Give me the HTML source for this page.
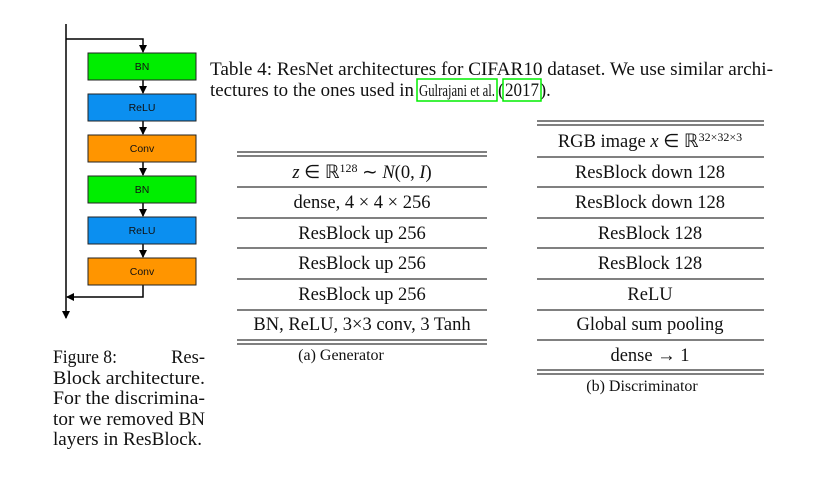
<!DOCTYPE html>
<html><head><meta charset="utf-8"><style>
body{margin:0;background:#fff}
svg{display:block}
.s{font-family:"Liberation Serif",serif;font-size:18.5px;fill:#111}
.b{font-family:"Liberation Sans",sans-serif;font-size:10.5px;fill:#111}
</style></head><body>
<svg width="839" height="489" viewBox="0 0 839 489">
<defs><marker id="ar" markerWidth="8" markerHeight="8" refX="7" refY="4" orient="auto" markerUnits="userSpaceOnUse"><path d="M0,0 L8,4 L0,8 z" fill="#000"/></marker></defs>
<g stroke="#000" stroke-width="1.5" fill="none">
<line x1="66" y1="24" x2="66" y2="318" marker-end="url(#ar)"/>
<polyline points="66,39 143,39 143,52" marker-end="url(#ar)"/>
<polyline points="143,285 143,297 67,297" marker-end="url(#ar)"/>
<line x1="143" y1="80" x2="143" y2="93" marker-end="url(#ar)"/>
<line x1="143" y1="121" x2="143" y2="134" marker-end="url(#ar)"/>
<line x1="143" y1="162" x2="143" y2="175" marker-end="url(#ar)"/>
<line x1="143" y1="203" x2="143" y2="216" marker-end="url(#ar)"/>
<line x1="143" y1="244" x2="143" y2="257" marker-end="url(#ar)"/>
</g>
<g><rect x="88" y="53" width="108" height="27" fill="#00ee00" stroke="#222"/><text class="b" x="142" y="70" text-anchor="middle">BN</text></g>
<g><rect x="88" y="94" width="108" height="27" fill="#0b8ff0" stroke="#222"/><text class="b" x="142" y="111" text-anchor="middle">ReLU</text></g>
<g><rect x="88" y="135" width="108" height="27" fill="#ff9500" stroke="#222"/><text class="b" x="142" y="152" text-anchor="middle">Conv</text></g>
<g><rect x="88" y="176" width="108" height="27" fill="#00ee00" stroke="#222"/><text class="b" x="142" y="193" text-anchor="middle">BN</text></g>
<g><rect x="88" y="217" width="108" height="27" fill="#0b8ff0" stroke="#222"/><text class="b" x="142" y="234" text-anchor="middle">ReLU</text></g>
<g><rect x="88" y="258" width="108" height="27" fill="#ff9500" stroke="#222"/><text class="b" x="142" y="275" text-anchor="middle">Conv</text></g>

<g>
<text class="s" x="53" y="363" textLength="64" lengthAdjust="spacingAndGlyphs">Figure 8:</text><text class="s" x="205" y="363" text-anchor="end">Res-</text>
<text class="s" x="53" y="384" textLength="152" lengthAdjust="spacingAndGlyphs">Block architecture.</text>
<text class="s" x="53" y="404" textLength="152" lengthAdjust="spacingAndGlyphs">For the discrimina-</text>
<text class="s" x="53" y="425" textLength="152" lengthAdjust="spacingAndGlyphs">tor we removed BN</text>
<text class="s" x="53" y="445" textLength="149" lengthAdjust="spacingAndGlyphs">layers in ResBlock.</text>
</g>

<g>
<text class="s" x="210" y="75" textLength="563" lengthAdjust="spacingAndGlyphs">Table 4: ResNet architectures for CIFAR10 dataset. We use similar archi-</text>
<text class="s" x="210" y="96" textLength="204" lengthAdjust="spacingAndGlyphs">tectures to the ones used in</text>
<text class="s" x="419" y="96" style="font-size:17px" textLength="76" lengthAdjust="spacingAndGlyphs">Gulrajani et al.</text>
<text class="s" x="498" y="96">(</text>
<text class="s" x="505" y="96" textLength="34" lengthAdjust="spacingAndGlyphs">2017</text>
<text class="s" x="540" y="96">).</text>
<rect x="417" y="79" width="80" height="22" fill="none" stroke="#00ee00" stroke-width="1.5"/>
<rect x="503" y="79" width="38" height="22" fill="none" stroke="#00ee00" stroke-width="1.5"/>
</g>

<g stroke="#000" stroke-width="1">
<line x1="237" y1="152" x2="487" y2="152"/><line x1="237" y1="156" x2="487" y2="156"/>
<line x1="237" y1="187" x2="487" y2="187"/><line x1="237" y1="218" x2="487" y2="218"/>
<line x1="237" y1="248" x2="487" y2="248"/><line x1="237" y1="279" x2="487" y2="279"/>
<line x1="237" y1="310" x2="487" y2="310"/>
<line x1="237" y1="340" x2="487" y2="340"/><line x1="237" y1="344" x2="487" y2="344"/>
</g>
<g>
<text class="s" x="362" y="178" text-anchor="middle"><tspan font-style="italic">z</tspan> ∈ ℝ<tspan dy="-6" style="font-size:12px">128</tspan><tspan dy="6"> ∼ </tspan><tspan font-style="italic">N</tspan>(0, <tspan font-style="italic">I</tspan>)</text>
<text class="s" x="362" y="208" text-anchor="middle">dense, 4 × 4 × 256</text>
<text class="s" x="362" y="239" text-anchor="middle">ResBlock up 256</text>
<text class="s" x="362" y="269" text-anchor="middle">ResBlock up 256</text>
<text class="s" x="362" y="300" text-anchor="middle">ResBlock up 256</text>
<text class="s" x="362" y="330" text-anchor="middle">BN, ReLU, 3×3 conv, 3 Tanh</text>
<text class="s" x="341" y="360" text-anchor="middle" style="font-size:16px">(a) Generator</text>
</g>

<g stroke="#000" stroke-width="1">
<line x1="537" y1="121" x2="764" y2="121"/><line x1="537" y1="125" x2="764" y2="125"/>
<line x1="537" y1="157" x2="764" y2="157"/><line x1="537" y1="187" x2="764" y2="187"/>
<line x1="537" y1="218" x2="764" y2="218"/><line x1="537" y1="248" x2="764" y2="248"/>
<line x1="537" y1="279" x2="764" y2="279"/><line x1="537" y1="310" x2="764" y2="310"/>
<line x1="537" y1="340" x2="764" y2="340"/>
<line x1="537" y1="370" x2="764" y2="370"/><line x1="537" y1="374" x2="764" y2="374"/>
</g>
<g>
<text class="s" x="650" y="147" text-anchor="middle">RGB image <tspan font-style="italic">x</tspan> ∈ ℝ<tspan dy="-6" style="font-size:12px">32×32×3</tspan></text>
<text class="s" x="650" y="178" text-anchor="middle">ResBlock down 128</text>
<text class="s" x="650" y="208" text-anchor="middle">ResBlock down 128</text>
<text class="s" x="650" y="239" text-anchor="middle">ResBlock 128</text>
<text class="s" x="650" y="269" text-anchor="middle">ResBlock 128</text>
<text class="s" x="650" y="300" text-anchor="middle">ReLU</text>
<text class="s" x="650" y="330" text-anchor="middle">Global sum pooling</text>
<text class="s" x="650" y="361" text-anchor="middle">dense → 1</text>
<text class="s" x="642" y="391" text-anchor="middle" style="font-size:16px">(b) Discriminator</text>
</g>
</svg>
</body></html>
